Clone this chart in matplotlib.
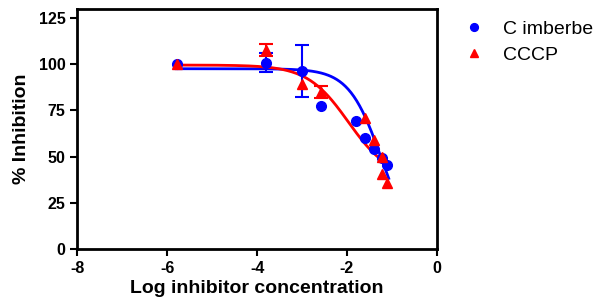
import matplotlib
matplotlib.use("Agg")
import matplotlib.pyplot as plt
import numpy as np

plt.rcParams["font.family"] = ["Liberation Sans", "DejaVu Sans"]
plt.rcParams["axes.unicode_minus"] = False

# Data
c_imberbe_x = [-5.79, -3.80, -3.00, -2.58, -1.80, -1.60, -1.40, -1.21, -1.10]
c_imberbe_y = [100.2, 100.9, 96.5, 77.4, 69.4, 59.8, 54.0, 49.5, 45.3]
c_imberbe_err = [0, 5.2, 14.2, 0, 0, 0, 0, 0, 0]

cccp_x = [-5.79, -3.80, -3.00, -2.58, -1.60, -1.40, -1.21, -1.23, -1.10]
cccp_y = [100.4, 107.8, 89.2, 85.1, 71.0, 58.9, 49.7, 40.7, 35.8]
cccp_err = [0, 3.2, 0, 3.3, 0, 0, 0, 0, 0]

# Fitted dose-response parameters (top, bottom, logIC50, hill) and fit range
c_imberbe_fit = (97.6, 0.0, -1.23, 1.2)
cccp_fit = (99.6, 38.0, -1.97, 0.95)
fit_range = (-5.8, -1.07)


def logistic(x, top, bottom, logic50, hill):
    return bottom + (top - bottom) / (1 + 10 ** ((x - logic50) * hill))


def draw_series(ax, x, y, err, color, marker, ms, label):
    x, y, err = np.array(x), np.array(y), np.array(err)
    m = err > 0
    ax.errorbar(x[m], y[m], yerr=err[m], fmt="none", ecolor=color,
                capsize=5, elinewidth=1.5, capthick=1.5, zorder=3)
    ax.plot(x, y, linestyle="none", marker=marker, color=color, markersize=ms,
            label=label, zorder=4)


fig = plt.figure(figsize=(6.0, 3.08), dpi=100)
ax = fig.add_axes([0.129, 0.192, 0.599, 0.779])

xx = np.linspace(fit_range[0], fit_range[1], 300)
ax.plot(xx, logistic(xx, *c_imberbe_fit), color="#0000FF", linewidth=2, zorder=2)
ax.plot(xx, logistic(xx, *cccp_fit), color="#FF0000", linewidth=2, zorder=2)

draw_series(ax, c_imberbe_x, c_imberbe_y, c_imberbe_err, "#0000FF", "o", 7, "C imberbe")
draw_series(ax, cccp_x, cccp_y, cccp_err, "#FF0000", "^", 7.5, "CCCP")

ax.set_xlim(-8, 0)
ax.set_ylim(0, 130)
ax.set_xticks([-8, -6, -4, -2, 0])
ax.set_yticks([0, 25, 50, 75, 100, 125])
ax.tick_params(direction="out", length=5, width=1.5, labelsize=11.5)
for lbl in ax.get_xticklabels() + ax.get_yticklabels():
    lbl.set_fontweight("bold")
for sp in ax.spines.values():
    sp.set_linewidth(2)

ax.set_xlabel("Log inhibitor concentration", fontsize=14, fontweight="bold", labelpad=3)
ax.set_ylabel("% Inhibition", fontsize=14, fontweight="bold", labelpad=6)

ax.legend(loc="upper left", bbox_to_anchor=(1.011, 1.027), frameon=False,
          fontsize=14, handletextpad=0.7, labelspacing=0.45, markerscale=0.8,
          handlelength=1.6)

fig.savefig("out.png", dpi=100)
